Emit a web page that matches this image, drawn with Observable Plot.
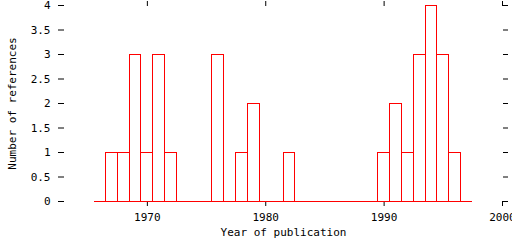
<!DOCTYPE html>
<html>
<head>
<meta charset="utf-8">
<script src="https://cdn.jsdelivr.net/npm/d3@7"></script>
<script src="https://cdn.jsdelivr.net/npm/@observablehq/plot@0.6"></script>
<style>
  html, body { margin: 0; padding: 0; background: #fff; }
  #chart svg { display: block; }
  #chart svg rect, #chart svg line { shape-rendering: crispEdges; }
</style>
</head>
<body>
<div id="chart"></div>
<script>
const years  = [1966,1967,1968,1969,1970,1971,1972,1973,1974,1975,1976,1977,1978,1979,1980,1981,
                1982,1983,1984,1985,1986,1987,1988,1989,1990,1991,1992,1993,1994,1995,1996,1997];
const counts = [0,1,1,3,1,3,1,0,0,0,3,0,1,2,0,0,
                1,0,0,0,0,0,0,0,1,2,1,3,4,3,1,0];
const xTicks = [1970, 1980, 1990, 2000];
const yTicks = [0, 0.5, 1, 1.5, 2, 2.5, 3, 3.5, 4];
const xTitle = "Year of publication";
const yTitle = "Number of references";

const data = years.map((year, i) => ({year, count: counts[i]}));
const half = 0.5;
const xMin = d3.min(years) - half, xMax = d3.max(years) + half;

const chart = Plot.plot({
  width: 512,
  height: 240,
  marginLeft: 64,
  marginRight: 10,
  marginTop: 5,
  marginBottom: 39,
  x: {domain: [1963, 2000]},
  y: {domain: [0, 4]},
  style: {fontFamily: "'DejaVu Sans Mono', monospace", fontSize: "11px", color: "black", background: "white"},
  marks: [
    Plot.axisY({ticks: yTicks, tickSize: 6, tickPadding: 8, tickFormat: d => String(d),
                label: yTitle, labelAnchor: "center", labelOffset: 56, labelArrow: "none"}),
    Plot.axisY({anchor: "right", ticks: yTicks, tickSize: 5, tickFormat: () => "", label: null}),
    Plot.axisX({ticks: xTicks, tickSize: 5, tickPadding: 7, tickFormat: d => String(d),
                label: xTitle, labelAnchor: "center", labelOffset: 34, labelArrow: "none"}),
    Plot.axisX({anchor: "top", ticks: xTicks, tickSize: 5, tickFormat: () => "", label: null}),
    Plot.ruleY([0], {x1: xMin, x2: xMax, stroke: "#ff0000", strokeWidth: 1}),
    Plot.rectY(data, {x1: d => d.year - half, x2: d => d.year + half, y: "count",
                      fill: "none", stroke: "#ff0000", strokeWidth: 1})
  ]
});
document.getElementById("chart").appendChild(chart);
</script>
</body>
</html>
